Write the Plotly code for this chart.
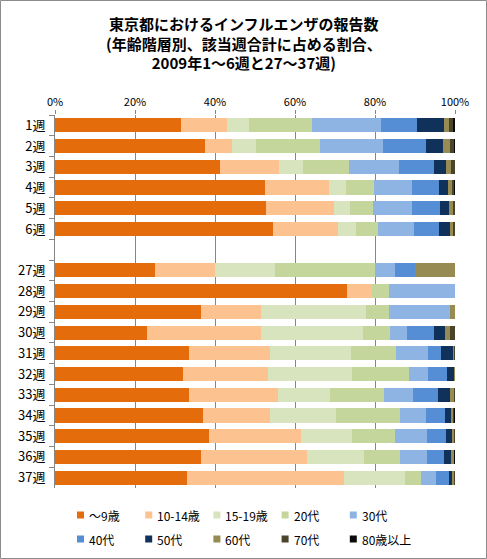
import plotly.graph_objects as go

# 週 (空行で 1-6週 と 27-37週 を区切る)
weeks = ["1週", "2週", "3週", "4週", "5週", "6週", " ",
         "27週", "28週", "29週", "30週", "31週", "32週", "33週", "34週", "35週", "36週", "37週"]

age_groups = ["～9歳", "10-14歳", "15-19歳", "20代", "30代", "40代", "50代", "60代", "70代", "80歳以上"]
colors = ["#E46C0A", "#FCC391", "#D7E4BD", "#C4D69C", "#8EB4E3", "#558ED5",
          "#10315A", "#968B53", "#4A452A", "#0A0A0A"]

# 各年齢層の割合(%)  None = 区切りの空行
age_0_9 = [31.4, 37.6, 41.3, 52.6, 52.8, 54.6, None,
           25.0, 73.0, 36.4, 23.1, 33.6, 32.1, 33.6, 37.1, 38.6, 36.6, 32.9]
age_10_14 = [11.7, 6.7, 14.8, 16.0, 17.0, 16.2, None,
             15.0, 6.3, 15.2, 28.5, 20.2, 21.2, 22.2, 16.7, 23.0, 26.5, 39.4]
age_15_19 = [5.5, 6.0, 6.0, 4.2, 4.0, 4.5, None,
             15.0, 0.0, 26.2, 25.4, 20.2, 21.0, 13.0, 16.5, 12.7, 14.2, 15.2]
age_20s = [15.7, 16.0, 11.4, 7.0, 5.7, 5.5, None,
           25.0, 4.2, 5.7, 6.8, 11.3, 14.2, 13.5, 16.0, 10.7, 9.0, 4.0]
age_30s = [17.2, 15.7, 12.5, 9.5, 9.8, 9.0, None,
           5.0, 16.5, 15.3, 4.2, 8.0, 4.8, 7.2, 6.5, 8.0, 6.7, 3.8]
age_40s = [9.0, 10.8, 8.8, 6.7, 7.0, 6.2, None,
           5.0, 0.0, 0.0, 6.8, 3.2, 4.7, 6.3, 4.7, 4.8, 4.3, 3.2]
age_50s = [6.8, 4.2, 3.0, 2.3, 2.2, 2.8, None,
           0.0, 0.0, 0.0, 2.7, 3.0, 1.75, 3.0, 1.5, 1.5, 1.7, 0.8]
age_60s = [1.2, 1.8, 1.2, 1.0, 1.0, 0.7, None,
           10.0, 0.0, 1.2, 1.3, 0.3, 0.25, 1.0, 0.6, 0.5, 0.75, 0.5]
age_70s = [0.9, 1.0, 1.0, 0.5, 0.5, 0.5, None,
           0.0, 0.0, 0.0, 1.2, 0.2, 0.0, 0.25, 0.15, 0.25, 0.0, 0.25]
age_80plus = [0.6, 0.25, 0.0, 0.2, 0.0, 0.0, None,
              0.0, 0.0, 0.0, 0.0, 0.0, 0.0, 0.0, 0.25, 0.0, 0.25, 0.0]

series = [age_0_9, age_10_14, age_15_19, age_20s, age_30s,
          age_40s, age_50s, age_60s, age_70s, age_80plus]

# plot area: 55..455 px wide, 115..488 px tall
L, T, W, H = 55, 115, 400, 373


def px_x(p):
    return (p - L) / W


def px_y(p):
    return (T + H - p) / H


fig = go.Figure()
for name, vals, col in zip(age_groups, series, colors):
    fig.add_trace(go.Bar(
        y=weeks, x=vals, name=name, orientation="h",
        marker=dict(color=col, line=dict(width=0)),
        hovertemplate="%{y} " + name + ": %{x}%<extra></extra>"
    ))

# 外枠
shapes = [dict(
    type="rect", xref="paper", yref="paper",
    x0=px_x(0.5), x1=px_x(486.5), y0=px_y(558.5), y1=px_y(0.5),
    line=dict(color="#8C8C8C", width=1), fillcolor="rgba(0,0,0,0)", layer="below"
)]
annotations = [dict(
    text="<b>東京都におけるインフルエンザの報告数<br>(年齢階層別、該当週合計に占める割合、<br>2009年1～6週と27～37週)</b>",
    xref="paper", yref="paper", x=px_x(243.5), y=px_y(43),
    xanchor="center", yanchor="middle", showarrow=False,
    font=dict(size=15), align="center"
)]
# 凡例 (Excel風: 5列 x 2行)
for i, (name, col) in enumerate(zip(age_groups, colors)):
    cx = 77 + (i % 5) * 68.2
    cy = 515 + (i // 5) * 24
    shapes.append(dict(
        type="rect", xref="paper", yref="paper",
        x0=px_x(cx), x1=px_x(cx + 7), y0=px_y(cy + 3.5), y1=px_y(cy - 3.5),
        line=dict(width=0), fillcolor=col
    ))
    annotations.append(dict(
        text=name, xref="paper", yref="paper", x=px_x(cx + 10), y=px_y(cy),
        xanchor="left", yanchor="middle", showarrow=False,
        font=dict(size=12)
    ))

fig.update_layout(
    width=487, height=559,
    barmode="stack", bargap=0.32, showlegend=False,
    plot_bgcolor="white", paper_bgcolor="white",
    font=dict(family="Noto Sans CJK JP", size=12, color="#000000"),
    margin=dict(l=L, r=487 - L - W, t=T, b=559 - T - H, autoexpand=False),
    shapes=shapes, annotations=annotations
)

fig.update_xaxes(
    side="top", range=[0, 100], dtick=20, ticksuffix="%",
    showgrid=True, gridcolor="#868686", gridwidth=1,
    ticks="outside", ticklen=4, tickcolor="#868686",
    showline=False, zeroline=False,
    tickfont=dict(size=11)
)
fig.update_yaxes(
    autorange="reversed", categoryorder="array", categoryarray=weeks,
    showline=True, linecolor="#868686", linewidth=1,
    ticks="outside", tickson="boundaries", ticklen=5, tickcolor="#868686",
    showgrid=False, tickfont=dict(size=13), ticklabelstandoff=6
)

fig.write_html("out.html", config={"displayModeBar": False},
               post_script="document.body.style.margin='0';")
